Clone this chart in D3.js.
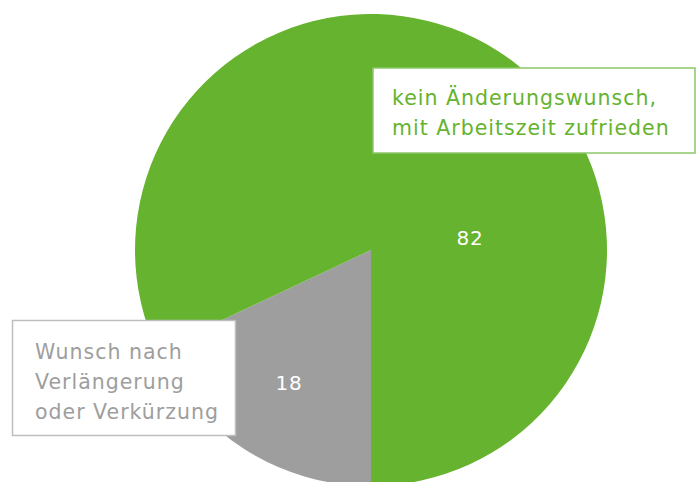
<!DOCTYPE html>
<html>
<head>
<meta charset="utf-8">
<script src="https://cdn.jsdelivr.net/npm/d3@7"></script>
<style>
  body {margin: 0; background: #fff;}
  text {font-family: "DejaVu Sans", sans-serif;}
</style>
</head>
<body>
<script>
  // data
  var categories = ["Wunsch nach Verlängerung oder Verkürzung", "kein Änderungswunsch, mit Arbeitszeit zufrieden"];
  var values = [18, 82];
  var colors = ["#9d9e9d", "#65b32e"];
  var labelLines = [["Wunsch nach", "Verlängerung", "oder Verkürzung"], ["kein Änderungswunsch,", "mit Arbeitszeit zufrieden"]];

  var width = 696, height = 482;
  var cx = 371, cy = 250, radius = 236;

  var svg = d3.select("body").append("svg")
      .attr("width", width)
      .attr("height", height);

  var data = values.map(function (v, i) {
    return {name: categories[i], value: v, color: colors[i], lines: labelLines[i]};
  });

  // pie starts at the bottom (6 o'clock) and runs clockwise
  var pie = d3.pie().value(function (d) { return d.value; })
      .sort(null)
      .startAngle(Math.PI)
      .endAngle(3 * Math.PI);
  var arc = d3.arc().innerRadius(0).outerRadius(radius);

  var g = svg.append("g").attr("transform", "translate(" + cx + "," + cy + ")");
  var arcs = pie(data);

  g.selectAll("path").data(arcs).enter().append("path")
      .attr("d", arc)
      .attr("fill", function (d) { return d.data.color; });

  // value labels
  var valuePos = [[-82, 133], [99, -12]];
  g.selectAll("text.val").data(arcs).enter().append("text")
      .attr("class", "val")
      .attr("x", function (d, i) { return valuePos[i][0]; })
      .attr("y", function (d, i) { return valuePos[i][1]; })
      .attr("text-anchor", "middle")
      .attr("dominant-baseline", "central")
      .attr("fill", "#fff")
      .style("font-size", "20px")
      .style("letter-spacing", "0.8px")
      .text(function (d) { return d.data.value; });

  // label boxes
  var boxes = [
    {x: 12, y: 320, w: 223, h: 115, stroke: "#bdbebd", text: "#9d9e9d", tx: 35, ty: 359},
    {x: 372.5, y: 67.5, w: 322, h: 85, stroke: "#8cc86a", text: "#65b32e", tx: 392, ty: 105}
  ];

  boxes.forEach(function (b, i) {
    svg.append("rect")
        .attr("x", b.x + 0.5).attr("y", b.y + 0.5)
        .attr("width", b.w).attr("height", b.h)
        .attr("fill", "#fff")
        .attr("stroke", b.stroke)
        .attr("stroke-width", 1.5);
    var t = svg.append("text")
        .attr("x", b.tx).attr("y", b.ty)
        .attr("fill", b.text)
        .style("font-size", "20.5px")
        .style("font-weight", "500")
        .style("letter-spacing", "1px");
    data[i].lines.forEach(function (line, j) {
      t.append("tspan").attr("x", b.tx).attr("y", b.ty + j * 30).text(line);
    });
  });
</script>
</body>
</html>
